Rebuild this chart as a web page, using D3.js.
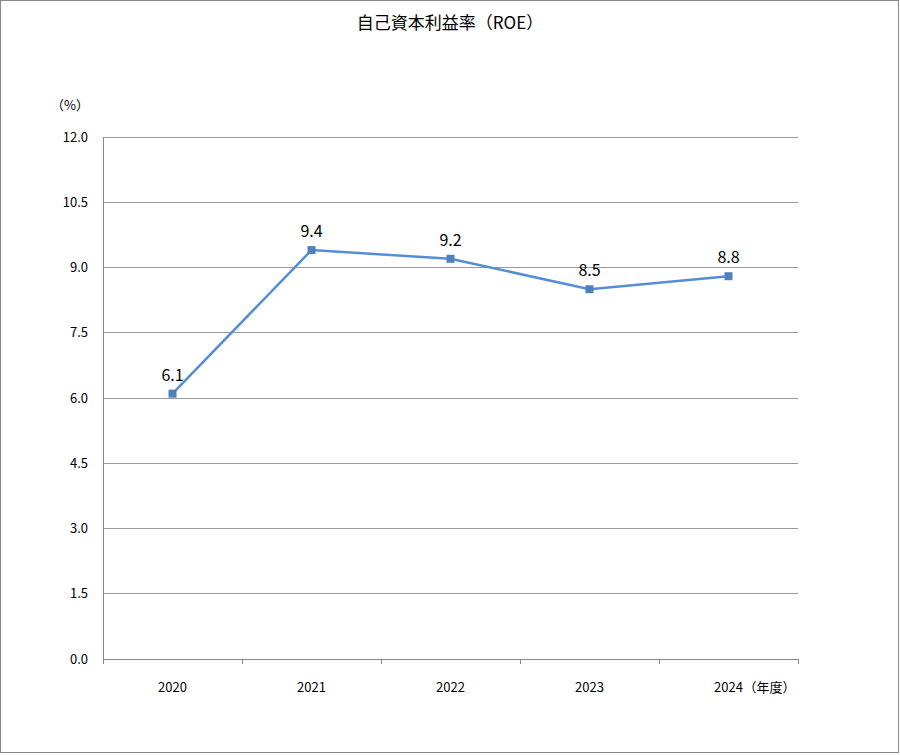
<!DOCTYPE html>
<html><head><meta charset="utf-8">
<script src="https://cdn.jsdelivr.net/npm/d3@7"></script>
<style>body{margin:0;background:#fff}text{font-family:"Noto Sans CJK JP","Noto Sans",sans-serif}</style>
</head><body><svg id="c" width="900" height="755"></svg>
<script>
const categories=["2020","2021","2022","2023","2024"];
const roe=[6.1,9.4,9.2,8.5,8.8];
const yTicks=[0,1.5,3,4.5,6,7.5,9,10.5,12];
const svg=d3.select("#c");
svg.append("rect").attr("x",0.5).attr("y",0.5).attr("width",898).attr("height",752).attr("fill","#fff").attr("stroke","#888");
const L=103,R=798,T=137,B=659;
const x=d3.scaleBand().domain(categories).range([L,R]);
const y=d3.scaleLinear().domain([0,12]).range([B,T]);
yTicks.forEach(t=>{
 svg.append("line").attr("x1",L).attr("x2",R).attr("y1",y(t)).attr("y2",y(t)).attr("stroke",t===0?"#888":"#999").attr("stroke-width",1).attr("shape-rendering","crispEdges");
 svg.append("text").attr("x",88).attr("y",y(t)+4.5).attr("text-anchor","end").attr("font-size",13).attr("fill","#000").text(t.toFixed(1));
});
svg.append("line").attr("x1",L).attr("x2",L).attr("y1",T).attr("y2",B).attr("stroke","#888").attr("shape-rendering","crispEdges");
categories.forEach((c,i)=>{
 const x0=x(c);
 svg.append("line").attr("x1",x0).attr("x2",x0).attr("y1",B).attr("y2",B+5).attr("stroke","#888").attr("shape-rendering","crispEdges");
 svg.append("text").attr("x",x0+x.bandwidth()/2).attr("y",692).attr("text-anchor","middle").attr("font-size",13).text(c);
 if(i===categories.length-1){
  svg.append("line").attr("x1",R).attr("x2",R).attr("y1",B).attr("y2",B+5).attr("stroke","#888").attr("shape-rendering","crispEdges");
  svg.append("text").attr("x",x0+x.bandwidth()/2+15).attr("y",692).attr("font-size",13).text("（年度）");
 }
});
svg.append("text").attr("x",70).attr("y",110).attr("text-anchor","middle").attr("font-size",13).text("（%）");
svg.append("text").attr("x",450).attr("y",29).attr("text-anchor","middle").attr("font-size",17).text("自己資本利益率（ROE）");
const cx=c=>x(c)+x.bandwidth()/2;
svg.append("path").datum(roe).attr("fill","none").attr("stroke","#558ED5").attr("stroke-width",2.5)
 .attr("d",d3.line().x((d,i)=>cx(categories[i])).y(d=>y(d)));
roe.forEach((v,i)=>{
 svg.append("rect").attr("x",cx(categories[i])-4).attr("y",y(v)-4).attr("width",8).attr("height",8).attr("fill","#4F81BD");
 svg.append("text").attr("x",cx(categories[i])).attr("y",y(v)-13).attr("text-anchor","middle").attr("font-size",16).text(v.toFixed(1));
});
</script></body></html>
